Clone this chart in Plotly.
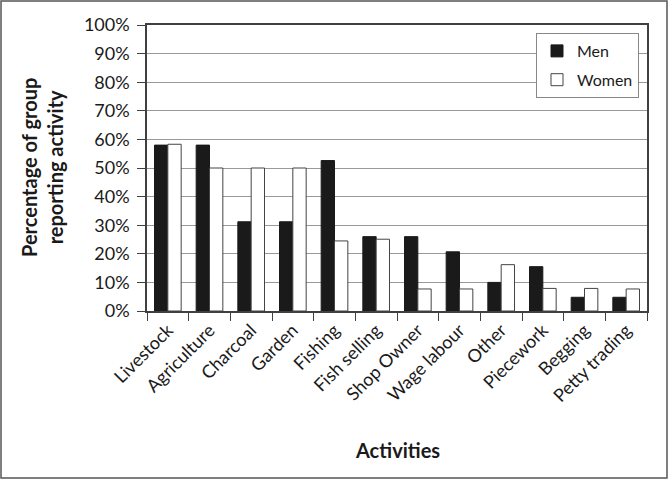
import plotly.graph_objects as go

categories = ["Livestock", "Agriculture", "Charcoal", "Garden", "Fishing", "Fish selling",
              "Shop Owner", "Wage labour", "Other", "Piecework", "Begging", "Petty trading"]
men = [0.58, 0.58, 0.312, 0.312, 0.526, 0.26, 0.26, 0.207, 0.10, 0.155, 0.048, 0.048]
women = [0.583, 0.50, 0.50, 0.50, 0.245, 0.251, 0.077, 0.077, 0.162, 0.079, 0.079, 0.077]
y_ticks = [i / 10 for i in range(11)]

W, H = 669, 480
L, R, T, B = 147, 22, 25, 169
pw, ph = W - L - R, H - T - B
FONT = "Lato, 'Open Sans', sans-serif"

fig = go.Figure()
fig.add_trace(go.Bar(x=categories, y=men, name="Men", legendgroup="m",
                     marker=dict(color="#1a1a1a", line=dict(color="#1a1a1a", width=1))))
fig.add_trace(go.Bar(x=categories, y=women, name="Women", legendgroup="w",
                     marker=dict(color="#ffffff", line=dict(color="#444444", width=1))))

fig.update_layout(
    width=W, height=H,
    margin=dict(l=L, r=R, t=T, b=B),
    paper_bgcolor="white", plot_bgcolor="white",
    font=dict(family=FONT, size=15, color="#1a1a1a"),
    barmode="group", bargap=0.36, bargroupgap=0,
    showlegend=True,
    legend=dict(x=(639 - L) / pw, y=(H - B - 33) / ph, xanchor="right", yanchor="top",
                bgcolor="white", bordercolor="#888888", borderwidth=1,
                font=dict(size=16), tracegroupgap=5),
    xaxis=dict(showline=True, linecolor="#404040", linewidth=1.5, mirror=True,
               ticks="outside", tickson="boundaries", ticklen=8, tickcolor="#404040",
               tickangle=-45, tickfont=dict(size=18), showgrid=False),
    yaxis=dict(range=[0, 1], tickvals=y_ticks, tickformat=".0%",
               showline=True, linecolor="#404040", linewidth=1.5, mirror=True,
               ticks="outside", ticklen=8, tickcolor="#404040",
               ticklabelstandoff=4,
               showgrid=True, gridcolor="#999999", gridwidth=1,
               tickfont=dict(size=18)),
    annotations=[
        dict(text="<b>Percentage of group<br>reporting activity</b>", xref="paper", yref="paper",
             x=(42 - L) / pw, y=0.5, xanchor="center", yanchor="middle", textangle=-90,
             showarrow=False, font=dict(size=20, color="#1a1a1a")),
        dict(text="<b>Activities</b>", xref="paper", yref="paper",
             x=0.5, y=(H - B - 450) / ph, xanchor="center", yanchor="middle",
             showarrow=False, font=dict(size=20, color="#1a1a1a")),
    ],
    shapes=[
        dict(type="rect", xref="paper", yref="paper",
             x0=(1 - L) / pw, x1=(667 - L) / pw, y0=(H - B - 478) / ph, y1=(H - B - 1) / ph,
             line=dict(color="#555555", width=1.5), fillcolor="rgba(0,0,0,0)", layer="below"),
    ],
)

fig.write_html("out.html", config={"displayModeBar": False},
               post_script="document.body.style.margin='0';document.body.style.overflow='hidden';")
